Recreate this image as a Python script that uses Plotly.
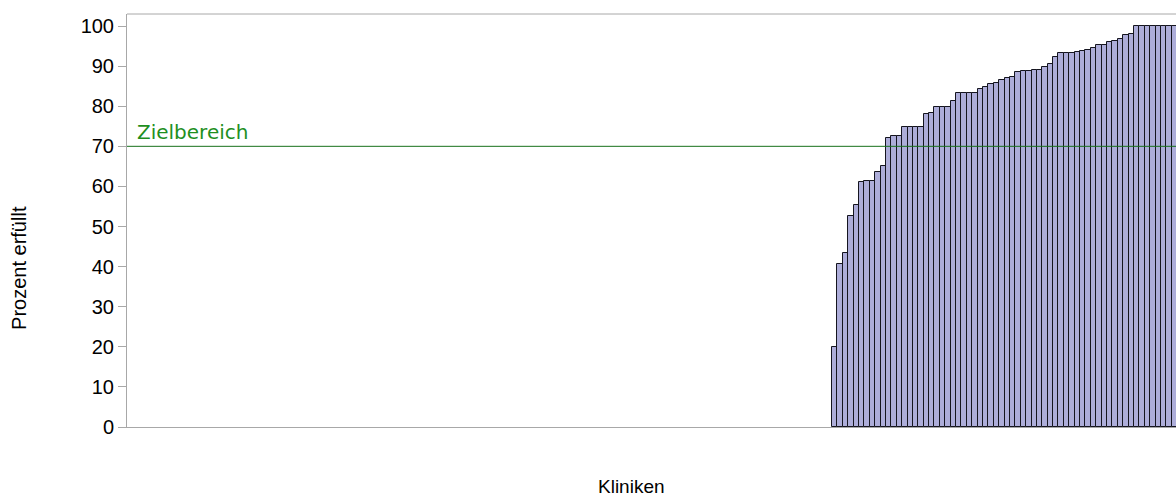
import plotly.graph_objects as go

# Anteil erfüllter Fälle je Klinik (aufsteigend sortiert)
werte = [
    20.0, 40.7, 43.3, 52.5, 55.4, 61.2, 61.4, 61.4, 63.7, 65.2,
    72.2, 72.6, 72.6, 74.9, 74.9, 74.9, 74.9, 78.0, 78.4, 79.9,
    79.9, 79.9, 81.2, 83.2, 83.2, 83.2, 83.2, 84.4, 84.7, 85.5,
    85.7, 86.6, 87.0, 87.3, 88.6, 88.9, 88.9, 89.1, 89.1, 89.9,
    90.5, 92.3, 93.3, 93.3, 93.3, 93.6, 93.7, 94.0, 94.6, 95.2,
    95.2, 95.9, 96.3, 96.8, 97.8, 98.1, 100.0, 100.0, 100.0, 100.0,
    100.0, 100.0, 100.0, 100.0,
]
anzahl_kliniken = 194
zielwert = 70
y_ticks = [0, 10, 20, 30, 40, 50, 60, 70, 80, 90, 100]

# Kliniken ohne Wert bleiben links leer; die übrigen stehen am rechten Rand
positionen = list(range(anzahl_kliniken - len(werte) + 1, anzahl_kliniken + 1))

AXIS_GRAY = "#a8a8a8"
FONT = "Liberation Sans, Arial, sans-serif"

fig = go.Figure(
    go.Bar(
        x=positionen,
        y=werte,
        width=1.0,
        marker=dict(color="#adadd9", line=dict(color="#15151f", width=1)),
        hoverinfo="y",
    )
)

fig.update_layout(
    width=1176,
    height=497,
    margin=dict(l=127, r=0, t=14, b=70),
    paper_bgcolor="white",
    plot_bgcolor="white",
    showlegend=False,
    bargap=0,
    font=dict(family=FONT, size=20, color="black"),
    shapes=[
        # Zielbereich-Linie
        dict(type="line", xref="paper", yref="y", x0=0, x1=1, y0=zielwert, y1=zielwert,
             line=dict(color="#17701a", width=1), layer="above"),
        # obere Rahmenlinie
        dict(type="line", xref="paper", yref="paper", x0=0, x1=1, y0=1, y1=1,
             line=dict(color=AXIS_GRAY, width=1), layer="above"),
    ],
    annotations=[
        dict(text="Zielbereich", xref="paper", yref="y", x=0.008, y=zielwert,
             xanchor="left", yanchor="bottom", yshift=0, showarrow=False,
             font=dict(family="DejaVu Sans, sans-serif", size=20, color="#1f8f1f")),
        dict(text="Prozent erfüllt", xref="paper", yref="paper", x=-0.103, y=0.385,
             xanchor="center", yanchor="middle", textangle=-90, showarrow=False,
             font=dict(family=FONT, size=20)),
        dict(text="Kliniken", xref="paper", yref="paper", x=0.481, y=-0.145,
             xanchor="center", yanchor="middle", showarrow=False,
             font=dict(family=FONT, size=19)),
    ],
)

fig.update_xaxes(
    range=[-0.28, anzahl_kliniken + 0.3],
    showline=True, linecolor=AXIS_GRAY, linewidth=1,
    showticklabels=False, ticks="", showgrid=False, zeroline=False,
)
fig.update_yaxes(
    range=[0, 103],
    tickvals=y_ticks,
    ticks="outside", ticklen=8, tickcolor=AXIS_GRAY, tickwidth=1,
    showline=True, linecolor=AXIS_GRAY, linewidth=1,
    showgrid=False, zeroline=False,
    tickfont=dict(family=FONT, size=20),
)

fig.write_html("out.html")
